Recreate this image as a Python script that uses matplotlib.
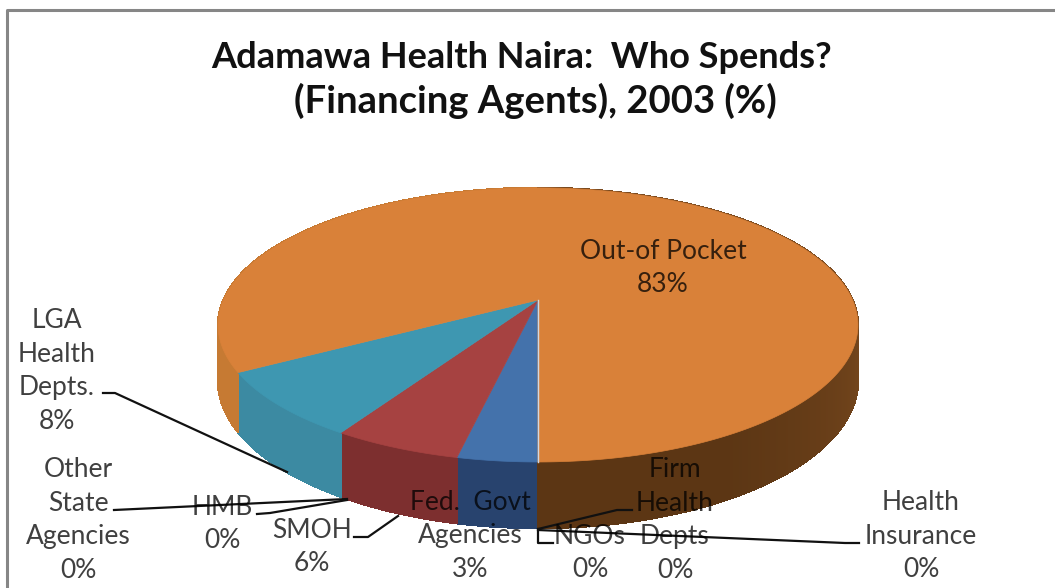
import numpy as np
import matplotlib
matplotlib.use("Agg")
import matplotlib.pyplot as plt
from matplotlib.collections import PolyCollection
from matplotlib.colors import to_rgb

# slices, clockwise from the front of the pie
slices = ["Fed. Govt Agencies", "SMOH", "LGA Health Depts.", "Out-of Pocket"]
shares = [3.4, 5.5, 7.8, 83.3]
top_colors = ["#4472ab", "#a64241", "#3e97b1", "#d98139"]
side_colors = ["#28436e", "#7d2f2f", "#3c8aa2", "#5c3614"]

# projection of the pie, in pixels of the picture
cx, cy = 538, 300
A, B, k = 314.6, 132.5, 0.182
D = 54

def rim(theta, depth=0):
    ux = -np.sin(theta)
    uy = np.cos(theta)
    w = 1 - k * uy
    return cx + A * ux / w, cy + (B * uy + depth) / w

plt.rcParams['font.family'] = ['Lato', 'DejaVu Sans']
fig = plt.figure(figsize=(10.55, 5.88), dpi=100)
ax = fig.add_axes([0, 0, 1, 1])
ax.set_xlim(0, 1055)
ax.set_ylim(588, 0)
ax.axis("off")

# chart border
ax.plot([6.5, 6.5, 1055], [588, 9.5, 9.5], color="#868686", lw=2.2, zorder=1)

edges = np.radians(np.cumsum([0] + shares) * 3.6)
lit = np.array(to_rgb("#c67a33"))
far_right = np.array(to_rgb("#7a4a1f"))

# side wall first, the top covers whatever faces backwards
for i in range(len(shares)):
    t = np.linspace(edges[i], edges[i + 1], max(int(shares[i] * 6), 8))
    polys = []
    cols = []
    base = np.array(to_rgb(side_colors[i]))
    for a, b in zip(t[:-1], t[1:]):
        xa, ya = rim(a)
        xb, yb = rim(b)
        xc, yc = rim(b, D)
        xd, yd = rim(a, D)
        polys.append([(xa, ya), (xb, yb), (xc, yc), (xd, yd)])
        c = base
        if i == 3:
            # the big slice is lit on the far left, dark brown on the right
            m = np.degrees((a + b) / 2)
            if m < 180:
                c = lit
            else:
                c = base + (far_right - base) * np.clip((330 - m) / 60, 0, 1)
        cols.append(c)
    ax.add_collection(PolyCollection(polys, facecolors=cols, edgecolors=cols,
                                     linewidths=1, antialiaseds=False, zorder=2))

# top of the pie
for i in range(len(shares)):
    t = np.linspace(edges[i], edges[i + 1], max(int(shares[i] * 6), 8))
    x, y = rim(t)
    ax.fill(np.r_[cx, x], np.r_[cy, y], color=top_colors[i], lw=0.5, zorder=3)
ax.plot([cx, cx], [cy, rim(0)[1]], color="#cfd8e4", lw=1, zorder=4)

# leader lines
leaders = [
    ([103, 115, 287], [393, 393, 472]),
    ([114, 347], [510, 499]),
    ([257, 270, 347], [514, 513, 500]),
    ([354, 368, 398], [537, 537, 516]),
    ([538, 538, 553], [529, 543, 543]),
    ([538, 617, 632], [529, 510, 510]),
    ([538, 845, 859], [530, 543, 543]),
]
for lx, ly in leaders:
    ax.plot(lx, ly, color="#111111", lw=1.6, zorder=5, solid_joinstyle="round")

# labels, black with alpha so they stay readable over the dark wall
labels = ["Out-of Pocket\n83%", "LGA\nHealth\nDepts.\n8%", "Other\nState\nAgencies\n0%",
          "HMB\n0%", "SMOH\n6%", "Fed.  Govt\nAgencies\n3%", "NGOs\n0%",
          "Firm\nHealth\nDepts\n0%", "Health\nInsurance\n0%"]
label_x = [663, 57, 78, 222, 312, 470, 590, 675, 921]
label_y = [268, 371, 520, 524, 547, 536, 553, 520, 536]
for s, lx, ly in zip(labels, label_x, label_y):
    ax.text(lx, ly, s, ha="center", va="center", fontsize=19, color="black", alpha=0.75,
            linespacing=1.42, zorder=6)

ax.text(522, 57, "Adamawa Health Naira:  Who Spends?", ha="center", va="center",
        fontsize=26, fontweight="bold", color="#111111", zorder=6)
ax.text(535, 101, "(Financing Agents), 2003 (%)", ha="center", va="center",
        fontsize=27.5, fontweight="bold", color="#111111", zorder=6)

fig.savefig("out.png", dpi=100, facecolor="white")
